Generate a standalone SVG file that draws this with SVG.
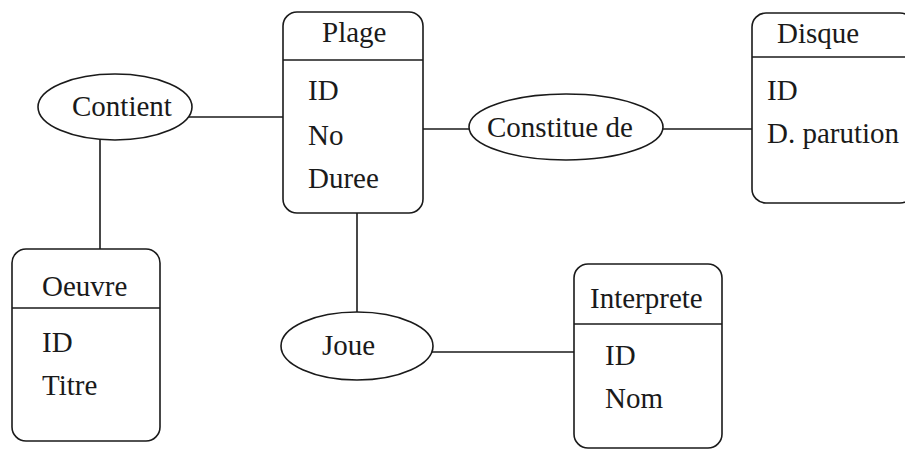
<svg xmlns="http://www.w3.org/2000/svg" width="905" height="450" viewBox="0 0 905 450">
<style>
.box{fill:#fff;stroke:#1a1a1a;stroke-width:1.6}
.sep{stroke:#1a1a1a;stroke-width:1.6}
.ell{fill:#fff;stroke:#1a1a1a;stroke-width:1.6}
.conn line{stroke:#1a1a1a;stroke-width:1.6}
text{font-family:"Liberation Serif","Times New Roman",serif;font-size:29px;fill:#1a1a1a}
</style>
<rect width="905" height="450" fill="#fff"/>
<g id="connectors" class="conn">
<line x1="188" y1="117" x2="283" y2="117"/>
<line x1="100" y1="139" x2="100" y2="249"/>
<line x1="423" y1="129" x2="469" y2="129"/>
<line x1="663" y1="129" x2="752" y2="129"/>
<line x1="357" y1="213" x2="357" y2="313"/>
<line x1="432" y1="352" x2="574" y2="352"/>
</g>
<g id="plage">
<rect class="box" x="283" y="12" width="140" height="201" rx="14"/>
<line class="sep" x1="283" y1="60" x2="423" y2="60"/>
<text x="322" y="42">Plage</text>
<text x="308" y="100">ID</text>
<text x="308" y="145">No</text>
<text x="308" y="188">Duree</text>
</g>
<g id="disque">
<rect class="box" x="752" y="13" width="162" height="190" rx="14"/>
<line class="sep" x1="752" y1="57" x2="914" y2="57"/>
<text x="777" y="43">Disque</text>
<text x="767" y="100">ID</text>
<text x="767" y="143">D. parution</text>
</g>
<g id="oeuvre">
<rect class="box" x="12" y="249" width="148" height="192" rx="14"/>
<line class="sep" x1="12" y1="308" x2="160" y2="308"/>
<text x="42" y="296">Oeuvre</text>
<text x="42" y="352">ID</text>
<text x="42" y="395">Titre</text>
</g>
<g id="interprete">
<rect class="box" x="574" y="264" width="148" height="184" rx="14"/>
<line class="sep" x1="574" y1="324" x2="722" y2="324"/>
<text x="590" y="308">Interprete</text>
<text x="605" y="365">ID</text>
<text x="605" y="408">Nom</text>
</g>
<g id="contient">
<ellipse class="ell" cx="115" cy="107" rx="77" ry="33"/>
<text x="72" y="116">Contient</text>
</g>
<g id="constitue">
<ellipse class="ell" cx="566" cy="127" rx="97" ry="33"/>
<text x="487" y="137">Constitue de</text>
</g>
<g id="joue">
<ellipse class="ell" cx="357" cy="346" rx="76" ry="34"/>
<text x="322" y="355">Joue</text>
</g>
</svg>
